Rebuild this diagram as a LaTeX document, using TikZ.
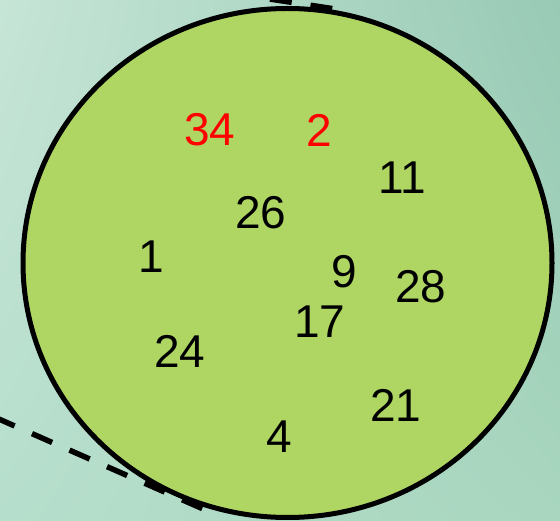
\documentclass[tikz,border=0pt]{standalone}
\usepackage{fontspec}
\setmainfont{Liberation Sans}
\usetikzlibrary{shadings,shapes.geometric}
\definecolor{bgUL}{RGB}{198,229,215}
\definecolor{bgUR}{RGB}{152,202,181}
\definecolor{bgLL}{RGB}{182,222,204}
\definecolor{bgLR}{RGB}{168,214,190}
\definecolor{leaf}{RGB}{175,214,99}
\definecolor{numred}{RGB}{255,0,0}
\tikzset{
  num/.style={inner sep=0pt, font=\fontsize{46}{46}\selectfont, text=black},
  rednum/.style={num, text=numred},
  dashline/.style={draw=black, line width=5.5pt, dash pattern=on 22pt off 19pt},
  setcircle/.style={draw=black, line width=5pt, fill=leaf}
}
\begin{document}
\begin{tikzpicture}[x=1pt,y=-1pt]
\useasboundingbox (0,0) rectangle (560,521);
\shade[upper left=bgUL, upper right=bgUR, lower left=bgLL, lower right=bgLR] (0,0) rectangle (560,521);
\coordinate (t1) at (250,-4);
\coordinate (t2) at (335,9);
\coordinate (b1) at (-8,416);
\coordinate (b2) at (210,512);
\draw[dashline, dash phase=20.8pt] (t1) -- (t2);
\draw[dashline, dash phase=38.3pt] (b1) -- (b2);
\node[setcircle, ellipse, minimum width=529pt, minimum height=509pt, inner sep=0pt] (set) at (287.5,263) {};
\node[rednum] (n34) at (210,130) {34};
\node[rednum] (n2) at (319,130) {2};
\node[num] (n11) at (402,178) {11};
\node[num] (n26) at (261,213) {26};
\node[num] (n1) at (151,257) {1};
\node[num] (n9) at (344,272) {9};
\node[num] (n28) at (421,287) {28};
\node[num] (n17) at (320,322) {17};
\node[num] (n24) at (180,351) {24};
\node[num] (n21) at (396,405) {21};
\node[num] (n4) at (279,437) {4};
\end{tikzpicture}
\end{document}
